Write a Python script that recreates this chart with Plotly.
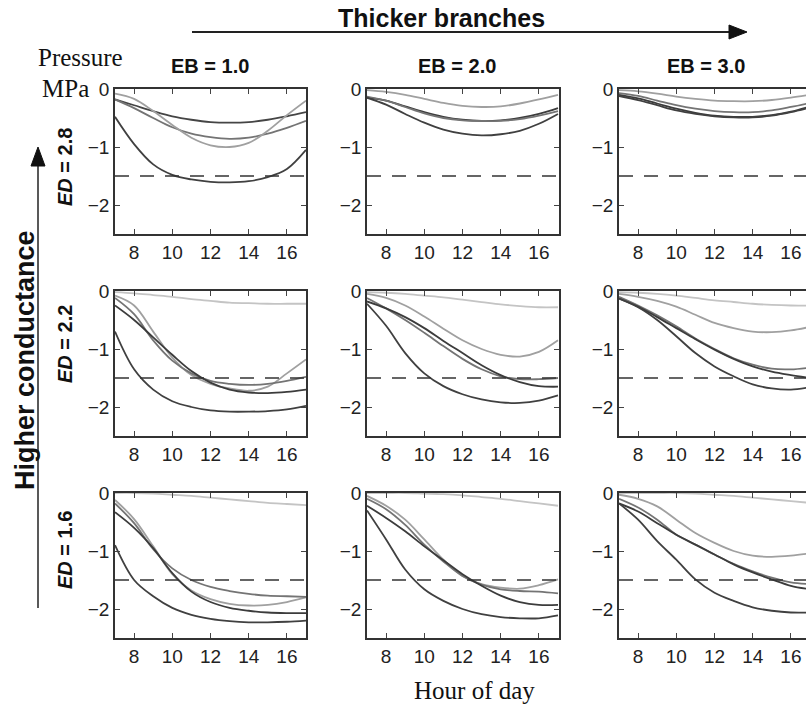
import plotly.graph_objects as go

# ---------------- data ----------------
hours = [7, 8, 9, 10, 11, 12, 13, 14, 15, 16, 17]
x_ticks = [8, 10, 12, 14, 16]
y_ticks = [0, -1, -2]
y_tick_labels = ["0", "\u22121", "\u22122"]
threshold = -1.5
eb_labels = ["EB = 1.0", "EB = 2.0", "EB = 3.0"]
ed_values = ["2.8", "2.2", "1.6"]

# Row 1: ED = 2.8
r1c1_dark_top = [-0.18, -0.28, -0.38, -0.47, -0.53, -0.57, -0.58, -0.57, -0.53, -0.47, -0.40]
r1c1_medium = [-0.18, -0.33, -0.50, -0.66, -0.77, -0.83, -0.86, -0.84, -0.77, -0.67, -0.55]
r1c1_light = [-0.08, -0.17, -0.38, -0.62, -0.84, -0.97, -1.00, -0.93, -0.72, -0.45, -0.20]
r1c1_dark_low = [-0.48, -0.95, -1.30, -1.48, -1.56, -1.60, -1.61, -1.59, -1.52, -1.38, -1.05]

r1c2_light = [-0.02, -0.05, -0.10, -0.17, -0.24, -0.29, -0.31, -0.30, -0.25, -0.18, -0.10]
r1c2_dark = [-0.15, -0.20, -0.30, -0.40, -0.48, -0.53, -0.55, -0.54, -0.50, -0.43, -0.33]
r1c2_medium = [-0.13, -0.20, -0.31, -0.42, -0.50, -0.54, -0.55, -0.55, -0.52, -0.46, -0.38]
r1c2_dark_low = [-0.15, -0.27, -0.43, -0.58, -0.70, -0.77, -0.80, -0.78, -0.72, -0.60, -0.43]

r1c3_light = [-0.02, -0.04, -0.08, -0.13, -0.17, -0.20, -0.21, -0.21, -0.19, -0.15, -0.10]
r1c3_medium = [-0.07, -0.12, -0.20, -0.28, -0.34, -0.38, -0.40, -0.40, -0.37, -0.31, -0.24]
r1c3_dark = [-0.10, -0.16, -0.25, -0.34, -0.41, -0.46, -0.48, -0.48, -0.45, -0.39, -0.30]
r1c3_dark_low = [-0.12, -0.19, -0.28, -0.37, -0.43, -0.47, -0.49, -0.49, -0.46, -0.40, -0.32]

# Row 2: ED = 2.2
r2c1_vlight = [-0.02, -0.04, -0.07, -0.10, -0.14, -0.17, -0.20, -0.21, -0.22, -0.22, -0.22]
r2c1_light = [-0.08, -0.25, -0.70, -1.15, -1.45, -1.60, -1.68, -1.72, -1.65, -1.42, -1.18]
r2c1_medium = [-0.12, -0.40, -0.85, -1.20, -1.42, -1.55, -1.60, -1.62, -1.60, -1.55, -1.48]
r2c1_dark = [-0.25, -0.50, -0.80, -1.10, -1.38, -1.58, -1.70, -1.75, -1.76, -1.74, -1.70]
r2c1_dark_low = [-0.70, -1.35, -1.70, -1.90, -2.00, -2.06, -2.08, -2.08, -2.07, -2.04, -1.98]

r2c2_vlight = [-0.02, -0.03, -0.05, -0.08, -0.11, -0.15, -0.19, -0.23, -0.26, -0.28, -0.28]
r2c2_light = [-0.05, -0.12, -0.25, -0.44, -0.65, -0.85, -1.00, -1.10, -1.13, -1.05, -0.85]
r2c2_medium = [-0.12, -0.30, -0.50, -0.72, -0.95, -1.17, -1.35, -1.47, -1.52, -1.52, -1.50]
r2c2_dark = [-0.18, -0.30, -0.45, -0.64, -0.86, -1.07, -1.28, -1.45, -1.57, -1.64, -1.65]
r2c2_dark_low = [-0.22, -0.60, -1.07, -1.42, -1.64, -1.78, -1.87, -1.92, -1.93, -1.89, -1.80]

r2c3_vlight = [-0.02, -0.03, -0.05, -0.08, -0.12, -0.16, -0.19, -0.22, -0.24, -0.25, -0.25]
r2c3_light = [-0.05, -0.10, -0.17, -0.27, -0.41, -0.55, -0.64, -0.70, -0.71, -0.68, -0.62]
r2c3_medium = [-0.10, -0.25, -0.42, -0.61, -0.82, -1.00, -1.16, -1.27, -1.34, -1.35, -1.32]
r2c3_dark = [-0.13, -0.27, -0.45, -0.64, -0.83, -1.01, -1.17, -1.30, -1.39, -1.45, -1.50]
r2c3_dark_low = [-0.13, -0.28, -0.50, -0.78, -1.07, -1.30, -1.47, -1.61, -1.68, -1.70, -1.66]

# Row 3: ED = 1.6
r3c1_vlight = [0.00, 0.00, -0.01, -0.03, -0.05, -0.08, -0.11, -0.14, -0.17, -0.19, -0.21]
r3c1_light = [-0.12, -0.45, -0.92, -1.40, -1.68, -1.83, -1.91, -1.94, -1.93, -1.88, -1.80]
r3c1_medium = [-0.18, -0.52, -0.97, -1.30, -1.50, -1.62, -1.69, -1.74, -1.77, -1.78, -1.79]
r3c1_dark = [-0.33, -0.60, -0.95, -1.38, -1.70, -1.88, -1.98, -2.03, -2.06, -2.07, -2.07]
r3c1_dark_low = [-0.90, -1.50, -1.78, -1.98, -2.10, -2.17, -2.21, -2.23, -2.23, -2.22, -2.20]

r3c2_vlight = [0.00, 0.00, 0.00, -0.01, -0.02, -0.04, -0.07, -0.10, -0.14, -0.18, -0.22]
r3c2_light = [-0.05, -0.22, -0.46, -0.80, -1.15, -1.43, -1.57, -1.63, -1.65, -1.59, -1.49]
r3c2_medium = [-0.10, -0.28, -0.55, -0.89, -1.18, -1.43, -1.58, -1.66, -1.69, -1.70, -1.73]
r3c2_dark = [-0.22, -0.43, -0.66, -0.92, -1.16, -1.40, -1.60, -1.77, -1.88, -1.93, -1.93]
r3c2_dark_low = [-0.30, -0.80, -1.32, -1.66, -1.86, -2.00, -2.09, -2.14, -2.16, -2.16, -2.11]

r3c3_vlight = [0.00, 0.00, 0.00, 0.00, -0.01, -0.03, -0.05, -0.08, -0.11, -0.14, -0.17]
r3c3_light = [-0.03, -0.10, -0.23, -0.46, -0.69, -0.86, -1.00, -1.08, -1.10, -1.08, -1.04]
r3c3_medium = [-0.10, -0.25, -0.46, -0.72, -0.89, -1.06, -1.22, -1.35, -1.46, -1.54, -1.57]
r3c3_dark = [-0.18, -0.32, -0.52, -0.72, -0.89, -1.06, -1.23, -1.37, -1.49, -1.60, -1.66]
r3c3_dark_low = [-0.18, -0.46, -0.83, -1.15, -1.49, -1.72, -1.86, -1.97, -2.03, -2.06, -2.06]

# ---------------- styling ----------------
SHADES = {"vlight": "#c4c4c4", "light": "#a0a0a0", "medium": "#747474",
          "dark": "#3c3c3c", "dark_low": "#404040", "dark_top": "#454545"}

panels = [
    [[("dark_top", r1c1_dark_top), ("medium", r1c1_medium), ("light", r1c1_light), ("dark_low", r1c1_dark_low)],
     [("light", r1c2_light), ("dark", r1c2_dark), ("medium", r1c2_medium), ("dark_low", r1c2_dark_low)],
     [("light", r1c3_light), ("medium", r1c3_medium), ("dark", r1c3_dark), ("dark_low", r1c3_dark_low)]],
    [[("vlight", r2c1_vlight), ("light", r2c1_light), ("medium", r2c1_medium), ("dark", r2c1_dark), ("dark_low", r2c1_dark_low)],
     [("vlight", r2c2_vlight), ("light", r2c2_light), ("medium", r2c2_medium), ("dark", r2c2_dark), ("dark_low", r2c2_dark_low)],
     [("vlight", r2c3_vlight), ("light", r2c3_light), ("medium", r2c3_medium), ("dark", r2c3_dark), ("dark_low", r2c3_dark_low)]],
    [[("vlight", r3c1_vlight), ("light", r3c1_light), ("medium", r3c1_medium), ("dark", r3c1_dark), ("dark_low", r3c1_dark_low)],
     [("vlight", r3c2_vlight), ("light", r3c2_light), ("medium", r3c2_medium), ("dark", r3c2_dark), ("dark_low", r3c2_dark_low)],
     [("vlight", r3c3_vlight), ("light", r3c3_light), ("medium", r3c3_medium), ("dark", r3c3_dark), ("dark_low", r3c3_dark_low)]],
]

W, H = 806, 705
col_px = [(115, 306), (367, 559), (619, 810)]
row_px = [(89, 234), (291, 436), (493, 638)]
px_per_hour = 191 / 10.0


def px_x(p):
    return p / W


def px_y(p):
    return 1 - p / H


SANS = "Liberation Sans, Arial, Helvetica, sans-serif"
SERIF = "Liberation Serif, Times New Roman, serif"

fig = go.Figure()
layout_axes = {}
n = 0
for r in range(3):
    for c in range(3):
        n += 1
        xa = "x" if n == 1 else f"x{n}"
        ya = "y" if n == 1 else f"y{n}"
        for shade, vals in panels[r][c]:
            fig.add_trace(go.Scatter(x=hours, y=vals, mode="lines", xaxis=xa, yaxis=ya,
                                     line=dict(color=SHADES[shade], width=1.8, shape="spline", smoothing=1.0),
                                     showlegend=False, hoverinfo="skip"))
        fig.add_trace(go.Scatter(x=[hours[0], hours[-1]], y=[threshold, threshold], mode="lines",
                                 xaxis=xa, yaxis=ya,
                                 line=dict(color="#333333", width=1.7, dash="14px,11px"),
                                 showlegend=False, hoverinfo="skip"))
        x0, x1 = col_px[c]
        right = min(x1, W)
        xmax = hours[0] + (right - x0) / px_per_hour
        y0, y1 = row_px[r]
        common = dict(showline=True, linecolor="#333333", linewidth=1.5, ticks="inside", ticklen=5,
                      tickwidth=1.2, tickcolor="#444444", showgrid=False, zeroline=False,
                      automargin=False,
                      tickfont=dict(family=SANS, size=19, color="#222222"))
        layout_axes["xaxis" if n == 1 else f"xaxis{n}"] = dict(
            domain=[px_x(x0), px_x(right)], range=[hours[0], xmax], tickvals=x_ticks,
            anchor=ya, mirror="ticks", ticklabelstandoff=0, **common)
        layout_axes["yaxis" if n == 1 else f"yaxis{n}"] = dict(
            domain=[px_y(y1), px_y(y0)], range=[-2.5, 0], tickvals=y_ticks, ticktext=y_tick_labels,
            anchor=xa, mirror=("ticks" if x1 <= W else False), **common)

fig.update_layout(**layout_axes)

annotations = []
# Column headers
eb_x = [210, 457, 706]
for lab, xc in zip(eb_labels, eb_x):
    annotations.append(dict(x=px_x(xc), y=px_y(66), xref="paper", yref="paper", text=f"<b>{lab}</b>",
                            showarrow=False, font=dict(family=SANS, size=20, color="#111111"),
                            xanchor="center", yanchor="middle"))
# Row labels
ed_y = [167, 344, 550]
for val, yc in zip(ed_values, ed_y):
    annotations.append(dict(x=px_x(65), y=px_y(yc), xref="paper", yref="paper",
                            text=f"<b><i>ED</i> = {val}</b>", textangle=-90, showarrow=False,
                            font=dict(family=SANS, size=20, color="#111111"),
                            xanchor="center", yanchor="middle"))
annotations += [
    dict(x=px_x(441), y=px_y(18), xref="paper", yref="paper", text="<b>Thicker branches</b>",
         showarrow=False, font=dict(family=SANS, size=25, color="#111111"), xanchor="center", yanchor="middle"),
    dict(x=px_x(25), y=px_y(360), xref="paper", yref="paper", text="<b>Higher conductance</b>",
         textangle=-90, showarrow=False, font=dict(family=SANS, size=27, color="#111111"),
         xanchor="center", yanchor="middle"),
    dict(x=px_x(36), y=px_y(57), xref="paper", yref="paper", text="Pressure",
         showarrow=False, font=dict(family=SERIF, size=25, color="#111111"), xanchor="left", yanchor="middle"),
    dict(x=px_x(40), y=px_y(89), xref="paper", yref="paper", text="MPa",
         showarrow=False, font=dict(family=SERIF, size=25, color="#111111"), xanchor="left", yanchor="middle"),
    dict(x=px_x(475), y=px_y(690), xref="paper", yref="paper", text="Hour of day",
         showarrow=False, font=dict(family=SERIF, size=25, color="#111111"), xanchor="center", yanchor="middle"),
]

shapes = [
    # horizontal arrow
    dict(type="line", xref="paper", yref="paper", x0=px_x(192), y0=px_y(32), x1=px_x(732), y1=px_y(32),
         line=dict(color="#222222", width=2)),
    dict(type="path", xref="paper", yref="paper",
         path=f"M {px_x(747)} {px_y(32)} L {px_x(729)} {px_y(25)} L {px_x(729)} {px_y(39)} Z",
         fillcolor="#111111", line=dict(color="#111111", width=1)),
    # vertical arrow
    dict(type="line", xref="paper", yref="paper", x0=px_x(38), y0=px_y(608), x1=px_x(38), y1=px_y(162),
         line=dict(color="#222222", width=1.5)),
    dict(type="path", xref="paper", yref="paper",
         path=f"M {px_x(38)} {px_y(147)} L {px_x(31)} {px_y(166)} L {px_x(45)} {px_y(166)} Z",
         fillcolor="#111111", line=dict(color="#111111", width=1)),
]

fig.update_layout(width=W, height=H,
                  margin=dict(l=0, r=0, t=0, b=0, pad=0, autoexpand=False),
                  paper_bgcolor="white", plot_bgcolor="white",
                  annotations=annotations, shapes=shapes, showlegend=False)

fig.write_html("out.html",
               post_script="document.body.style.margin='0';document.body.style.padding='0';")
